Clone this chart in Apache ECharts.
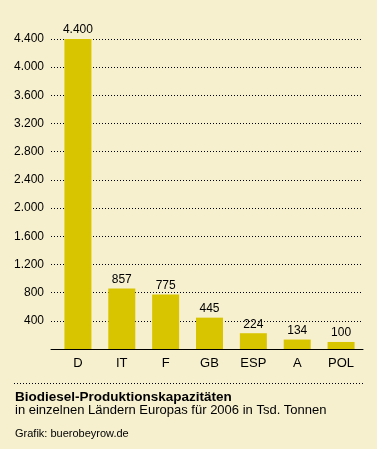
<!DOCTYPE html>
<html>
<head>
<meta charset="utf-8">
<script src="https://cdn.jsdelivr.net/npm/echarts@6/dist/echarts.min.js"></script>
<style>
html,body{margin:0;padding:0;background:#F6F0CF;}
#chart{width:377px;height:449px;}
</style>
</head>
<body>
<div id="chart"></div>
<script>
// Daten: Biodiesel-Produktionskapazitäten 2006, Tsd. Tonnen
var countries = ['D', 'IT', 'F', 'GB', 'ESP', 'A', 'POL'];
var capacity = [4400, 857, 775, 445, 224, 134, 100];
var yMax = 4400;
var yStep = 400;

var font = 'Arial, "Liberation Sans", sans-serif';

function fmt(v) {
    return String(v).replace(/\B(?=(\d{3})+(?!\d))/g, '.');
}

var chart = echarts.init(document.getElementById('chart'));
var option = {
    backgroundColor: '#F6F0CF',
    animation: false,
    grid: [
        // Hintergrund: Gitterlinien und Achse etwas breiter als die Balkenfläche
        {left: 51, right: 14, top: 39, height: 310},
        {left: 56, right: 14, top: 39, height: 310}
    ],
    xAxis: [{
        gridIndex: 0,
        type: 'category',
        data: countries,
        axisTick: {show: false},
        axisLabel: {show: false},
        axisLine: {lineStyle: {color: '#000', width: 1}}
    }, {
        gridIndex: 1,
        type: 'category',
        data: countries,
        axisTick: {show: false},
        axisLine: {show: false},
        axisLabel: {
            color: '#000',
            fontFamily: font,
            fontSize: 13,
            margin: 8
        }
    }],
    yAxis: [{
        gridIndex: 0,
        type: 'value',
        min: 0,
        max: yMax,
        interval: yStep,
        axisLine: {show: false},
        axisTick: {show: false},
        axisLabel: {
            color: '#000',
            fontFamily: font,
            fontSize: 12,
            margin: 7,
            formatter: function (v) { return v === 0 ? '' : fmt(v); }
        },
        splitLine: {
            lineStyle: {color: '#000', type: [1, 2], width: 1}
        }
    }, {
        gridIndex: 1,
        type: 'value',
        min: 0,
        max: yMax,
        interval: yStep,
        axisLine: {show: false},
        axisTick: {show: false},
        axisLabel: {show: false},
        splitLine: {show: false}
    }],
    series: [{
        type: 'bar',
        xAxisIndex: 1,
        yAxisIndex: 1,
        data: capacity,
        barWidth: 27,
        itemStyle: {color: '#D9C400'},
        label: {
            show: true,
            position: 'top',
            distance: 3,
            color: '#000',
            fontFamily: font,
            fontSize: 12,
            formatter: function (p) { return fmt(p.value); }
        }
    }],
    graphic: [
        {
            type: 'line',
            shape: {x1: 14, y1: 383.5, x2: 363, y2: 383.5},
            style: {stroke: '#000', lineWidth: 1, lineDash: [1, 2]}
        },
        {
            type: 'text', left: 15, top: 390,
            style: {text: 'Biodiesel-Produktionskapazitäten', font: 'bold 13.5px ' + font, fill: '#000'}
        },
        {
            type: 'text', left: 15, top: 404,
            style: {text: 'in einzelnen Ländern Europas für 2006 in Tsd. Tonnen', font: '13px ' + font, fill: '#000'}
        },
        {
            type: 'text', left: 15, top: 428,
            style: {text: 'Grafik: buerobeyrow.de', font: '11px ' + font, fill: '#000'}
        }
    ]
};
chart.setOption(option);
</script>
</body>
</html>
